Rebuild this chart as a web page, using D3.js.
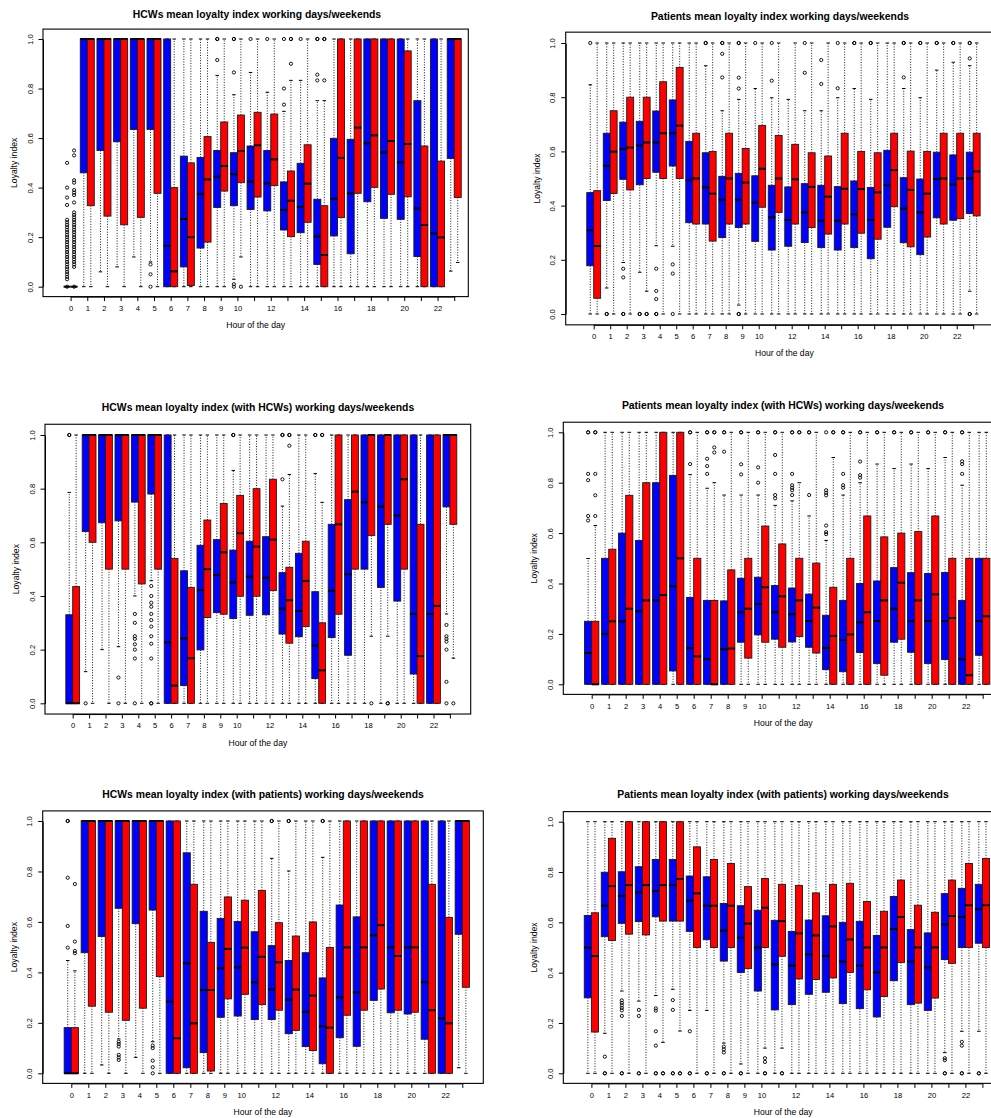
<!DOCTYPE html>
<html>
<head>
<meta charset="utf-8">
<script src="https://cdn.jsdelivr.net/npm/d3@7"></script>
<style>
  body { margin: 0; background: #fff; }
  svg { display: block; }
  text { font-family: "Liberation Sans", Arial, Helvetica, sans-serif; fill: #000; }
</style>
</head>
<body>
<svg id="chart" width="991" height="1118"></svg>
<script>
// Hours of the day (x categories) and their printed labels
const hours = [0,1,2,3,4,5,6,7,8,9,10,11,12,13,14,15,16,17,18,19,20,21,22,23];
const hourLabels = ["0","1","2","3","4","5","6","7","8","9","10","","12","","14","","16","","18","","20","","22",""];
const yTicks = [0, 0.2, 0.4, 0.6, 0.8, 1.0];

const titles = [
  "HCWs mean loyalty index working days/weekends",
  "Patients mean loyalty index working days/weekends",
  "HCWs mean loyalty index (with HCWs) working days/weekends",
  "Patients mean loyalty index (with HCWs) working days/weekends",
  "HCWs mean loyalty index (with patients) working days/weekends",
  "Patients mean loyalty index (with patients) working days/weekends"
];

// Box summaries per hour: [lower whisker, Q1, median, Q3, upper whisker]
// HCWs, all contacts
const hcwWork = [[0,0,0,0,0],[0,0.46,1,1,1],[0.06,0.55,1,1,1],[0.08,0.585,1,1,1],[0.12,0.635,1,1,1],[0.1,0.635,1,1,1],[0,0,0.165,1,1],[0,0.08,0.273,0.527,1],[0,0.156,0.374,0.522,1],[0,0.32,0.444,0.55,0.853],[0.03,0.327,0.454,0.541,0.775],[0,0.312,0.424,0.568,0.865],[0,0.306,0.417,0.55,0.785],[0,0.229,0.31,0.423,0.708],[0,0.218,0.322,0.498,0.833],[0,0.09,0.203,0.353,0.751],[0,0.205,0.355,0.599,1],[0,0.133,0.377,0.595,1],[0,0.343,0.579,1,1],[0,0.276,0.542,1,1],[0,0.272,0.502,1,1],[0,0.122,0.316,0.751,1],[0,0,0.215,1,1],[0.063,0.518,1,1,1]];
const hcwWorkOut = [[0.5,0.4,0.36,0.33,0.27,0.26,0.25,0.24,0.23,0.22,0.21,0.2,0.19,0.18,0.17,0.16,0.15,0.14,0.13,0.12,0.11,0.1,0.09,0.08,0.07,0.06,0.05,0.04,0.03,0],[],[],[],[],[0.09,0.05,0],[],[],[],[0.915,1,1],[0.865,1,1,0.01,0],[1],[1],[0.735,0.8,1],[1],[0.833,0.856,1,1],[],[],[],[],[],[],[],[]];
const hcwWeekend = [[0,0,0,0,0],[0,0.327,1,1,1],[0,0.285,1,1,1],[0,0.25,1,1,1],[0,0.28,1,1,1],[0,0.377,1,1,1],[0,0,0.062,0.4,1],[0,0.005,0.2,0.5,1],[0,0.18,0.433,0.606,1],[0,0.386,0.487,0.665,1],[0.12,0.42,0.548,0.693,1],[0,0.362,0.571,0.704,1],[0,0.408,0.514,0.697,1],[0,0.202,0.347,0.467,0.833],[0,0.26,0.416,0.573,1],[0,0,0.128,0.327,0.751],[0,0.279,0.52,1,1],[0,0.377,0.642,1,1],[0,0.401,0.611,1,1],[0,0.373,0.588,1,1],[0,0.363,0.576,0.952,1],[0,0,0.249,0.568,1],[0,0,0.199,0.507,1],[0.098,0.36,1,1,1]];
const hcwWeekendOut = [[0.55,0.53,0.43,0.42,0.39,0.38,0.37,0.34,0.3,0.29,0.28,0.27,0.26,0.25,0.24,0.23,0.22,0.21,0.2,0.19,0.18,0.17,0.16,0.15,0.14,0.13,0.12,0.11,0.1,0.09,0.08,0],[],[],[],[],[],[],[],[],[],[0],[],[],[0.9,1,1],[],[0.833,1,1],[],[],[],[],[],[],[],[]];

// Patients, all contacts
const patWork = [[0,0.178,0.309,0.448,0.846],[0.096,0.419,0.547,0.667,1],[0.19,0.497,0.609,0.708,1],[0.154,0.477,0.622,0.711,1],[0.252,0.523,0.633,0.749,1],[0.25,0.546,0.667,0.79,1],[0,0.337,0.494,0.637,1],[0,0.332,0.467,0.595,0.916],[0,0.282,0.422,0.508,0.75],[0.033,0.319,0.422,0.519,0.792],[0,0.268,0.411,0.51,0.832],[0,0.236,0.357,0.475,0.798],[0,0.25,0.347,0.469,0.792],[0,0.264,0.375,0.481,0.75],[0,0.245,0.344,0.475,0.75],[0,0.236,0.344,0.47,0.798],[0,0.245,0.368,0.491,0.832],[0,0.204,0.347,0.467,0.792],[0,0.32,0.475,0.604,1],[0,0.263,0.389,0.503,0.832],[0,0.219,0.375,0.498,0.798],[0,0.355,0.498,0.597,0.9],[0,0.346,0.478,0.587,0.929],[0.084,0.371,0.5,0.597,0.916]];
const patWorkOut = [[1],[0,0],[0.167,0.135,0,0],[0,0],[0.167,0.085,0.055,0,0],[0.183,0.149,0],[],[1,1],[0.96,0.873,1,1],[0.872,0.832,1,1,0,0],[1],[0.861,1],[],[0.89,1],[0.849,0.937],[0.833,1],[1,1],[1,1],[],[0.873,1,1],[1,1],[1,1],[1,1],[0.943,1,1,0,0]];
const patWeekend = [[0,0.058,0.251,0.455,1],[0,0.445,0.599,0.75,1],[0,0.458,0.614,0.8,1],[0.084,0.5,0.633,0.8,1],[0,0.5,0.667,0.857,1],[0,0.5,0.695,0.91,1],[0,0.332,0.5,0.667,1],[0,0.269,0.444,0.6,1],[0,0.332,0.5,0.667,1],[0,0.332,0.485,0.611,1],[0,0.394,0.536,0.696,1],[0,0.375,0.5,0.659,1],[0,0.332,0.497,0.626,1],[0,0.319,0.469,0.595,1],[0,0.295,0.433,0.583,1],[0,0.332,0.462,0.667,1],[0,0.298,0.461,0.6,1],[0,0.276,0.449,0.595,1],[0,0.396,0.531,0.667,1],[0,0.248,0.458,0.601,1],[0,0.284,0.444,0.6,1],[0,0.332,0.5,0.667,1],[0,0.352,0.5,0.667,1],[0,0.362,0.526,0.667,1]];
const patWeekendOut = [[],[],[],[0,0],[],[],[],[],[],[],[],[],[],[],[],[],[],[],[],[],[],[],[],[]];

// HCWs, contacts with HCWs
const hcwHcwWork = [[0,0,0,0.33,0.786],[0.118,0.64,1,1,1],[0.2,0.673,1,1,1],[0.211,0.68,1,1,1],[0.4,0.75,1,1,1],[0.457,0.78,1,1,1],[0,0,0.227,1,1],[0,0.066,0.242,0.494,1],[0,0.199,0.422,0.589,1],[0,0.338,0.478,0.61,1],[0,0.316,0.45,0.571,0.868],[0,0.328,0.472,0.604,1],[0,0.33,0.468,0.621,1],[0,0.258,0.353,0.487,0.735],[0,0.248,0.344,0.559,1],[0,0.092,0.215,0.416,0.856],[0,0.245,0.419,0.667,1],[0,0.179,0.481,0.759,1],[0,0.5,0.749,1,1],[0,0.432,0.733,1,1],[0,0.381,0.7,1,1],[0,0.109,0.333,1,1],[0,0,0.333,1,1],[0.333,0.732,1,1,1]];
const hcwHcwWorkOut = [[1,1],[0],[],[0.096,0],[0.333,0.3,0.25,0.24,0.22,0.2,0.167,0],[0.437,0.4,0.375,0.36,0.333,0.31,0.286,0.25,0.222,0.167,0,0],[],[],[],[],[1,1],[],[],[0.835,1,1],[],[1,1],[],[],[],[],[],[],[],[0.292,0.25,0.24,0.23,0.2,0.08,0]];
const hcwHcwWeekend = [[0,0,0,0.435,1],[0,0.6,1,1,1],[0,0.5,1,1,1],[0,0.5,1,1,1],[0,0.445,1,1,1],[0,0.5,1,1,1],[0,0,0.066,0.54,1],[0,0,0.168,0.432,1],[0,0.32,0.5,0.683,1],[0,0.332,0.563,0.745,1],[0,0.399,0.634,0.775,1],[0,0.399,0.584,0.8,1],[0,0.42,0.61,0.835,1],[0,0.224,0.384,0.507,0.853],[0,0.286,0.456,0.604,1],[0,0,0.123,0.3,0.749],[0,0.332,0.667,1,1],[0,0.5,0.789,1,1],[0.25,0.625,1,1,1],[0.25,0.667,1,1,1],[0,0.5,0.835,1,1],[0,0,0.176,0.667,1],[0,0,0.363,1,1],[0.168,0.667,1,1,1]];
const hcwHcwWeekendOut = [[],[],[],[],[],[],[],[],[],[],[],[],[],[0.96,1,1],[],[1,1],[],[],[0],[0,0],[],[],[],[0]];

// Patients, contacts with HCWs
const patHcwWork = [[0,0,0.124,0.25,0.499],[0,0,0.2,0.5,1],[0,0,0.25,0.6,1],[0,0,0.29,0.571,1],[0,0,0.333,0.8,1],[0,0.053,0.389,0.829,1],[0,0,0.143,0.345,0.832],[0,0,0.1,0.333,0.778],[0,0,0.139,0.331,0.751],[0,0.167,0.286,0.421,0.751],[0,0.196,0.319,0.425,0.751],[0,0.179,0.286,0.392,0.71],[0,0.168,0.278,0.382,0.728],[0,0.147,0.251,0.358,0.668],[0,0.058,0.144,0.274,0.571],[0,0.05,0.176,0.333,0.751],[0,0.126,0.246,0.4,0.8],[0,0.082,0.251,0.41,0.874],[0,0.167,0.3,0.463,0.856],[0,0.127,0.251,0.443,0.874],[0,0.082,0.251,0.44,0.856],[0,0.098,0.251,0.444,0.9],[0,0,0.099,0.333,0.79],[0,0.115,0.251,0.5,1]];
const patHcwWorkOut = [[0.65,0.668,0.81,0.835,1,1],[],[],[],[],[],[0.874,1,1],[0.835,0.866,0.895,1,1],[0.923,1,1],[0.833,0.873,1,1],[0.8,0.861,1,1],[0.738,0.751,0.835,0.91,1,1],[0.751,0.77,0.78,0.79,0.835,1,1],[0.751,1,1],[0.596,0.604,0.63,0.75,0.76,0.77,1],[0.78,0.79,0.835,1,1],[0.82,0.83,0.884,1,1],[1,1],[1,1],[1,1],[1,1],[1,1],[0.835,0.874,0.885,1,1],[]];
const patHcwWeekend = [[0,0,0,0.25,0.63],[0,0,0.25,0.536,1],[0,0,0.3,0.75,1],[0,0,0.333,0.8,1],[0,0,0.354,1,1],[0,0,0.5,1,1],[0,0,0.111,0.5,1],[0,0,0,0.333,0.8],[0,0,0.142,0.454,1],[0,0.104,0.3,0.5,1],[0,0.167,0.385,0.628,1],[0,0.147,0.349,0.557,1],[0,0.189,0.333,0.5,0.8],[0,0.124,0.304,0.481,1],[0,0,0.192,0.385,0.9],[0,0,0.198,0.5,1],[0,0,0.286,0.668,1],[0,0.036,0.333,0.585,1],[0,0.179,0.403,0.6,1],[0,0,0.333,0.606,1],[0,0,0.357,0.668,1],[0,0,0.263,0.5,1],[0,0,0.036,0.5,1],[0,0,0.27,0.5,1]];
const patHcwWeekendOut = [[0.668,0.75,0.835,1,1],[],[],[],[],[],[],[0.92,0.94,1,1],[],[],[],[],[1,1],[],[1,1],[],[],[],[],[],[],[],[],[]];

// HCWs, contacts with patients
const hcwPatWork = [[0,0,0,0.181,0.447],[0,0.478,1,1,1],[0.033,0.542,1,1,1],[0.136,0.654,1,1,1],[0.063,0.593,1,1,1],[0.125,0.647,1,1,1],[0,0,0.284,1,1],[0,0.022,0.436,0.874,1],[0,0.082,0.33,0.642,1],[0,0.222,0.416,0.614,1],[0,0.227,0.42,0.602,1],[0,0.213,0.361,0.561,1],[0,0.213,0.333,0.506,0.852],[0,0.157,0.292,0.447,0.802],[0,0.106,0.244,0.478,1],[0,0.038,0.186,0.378,0.856],[0,0.141,0.301,0.667,1],[0,0.107,0.321,0.62,1],[0,0.289,0.547,1,1],[0,0.24,0.499,1,1],[0,0.235,0.499,1,1],[0,0.135,0.361,1,1],[0,0,0.218,1,1],[0.022,0.551,1,1,1]];
const hcwPatWorkOut = [[0.498,0.584,0.775,1,1],[],[],[0.125,0.116,0.106,0.073,0.063,0.053],[],[0.11,0.1,0.05,0.024,0],[],[],[],[],[],[],[1,1],[1,1],[],[1,1],[],[],[],[],[],[],[],[]];
const hcwPatWeekend = [[0,0,0,0.181,0.406],[0,0.266,1,1,1],[0,0.242,1,1,1],[0,0.21,1,1,1],[0,0.258,1,1,1],[0,0.383,1,1,1],[0,0,0.139,1,1],[0,0,0.198,0.749,1],[0,0.009,0.33,0.519,1],[0,0.295,0.493,0.699,1],[0,0.313,0.498,0.686,1],[0,0.272,0.462,0.725,1],[0,0.25,0.44,0.597,1],[0,0.17,0.332,0.544,1],[0,0.09,0.308,0.6,1],[0,0,0.181,0.499,1],[0,0.23,0.499,1,1],[0,0.25,0.499,1,1],[0,0.334,0.587,1,1],[0,0.25,0.465,1,1],[0,0.242,0.499,1,1],[0,0,0.25,0.749,1],[0,0,0.198,0.618,1],[0,0.341,1,1,1]];
const hcwPatWeekendOut = [[0.476,0.485,0.522,0.75],[],[],[],[],[],[],[],[],[],[],[],[],[],[],[],[],[],[],[],[],[],[],[]];

// Patients, contacts with patients
const patPatWork = [[0,0.3,0.5,0.627,1],[0.159,0.543,0.666,0.799,1],[0.327,0.596,0.705,0.801,1],[0.287,0.603,0.719,0.821,1],[0.309,0.622,0.724,0.85,1],[0.334,0.605,0.748,0.85,1],[0.25,0.564,0.686,0.784,1],[0.25,0.531,0.666,0.781,1],[0.12,0.446,0.567,0.675,1],[0.037,0.401,0.539,0.666,1],[0,0.327,0.5,0.648,1],[0,0.252,0.433,0.608,1],[0,0.273,0.428,0.564,1],[0,0.314,0.473,0.609,1],[0,0.322,0.466,0.626,1],[0,0.277,0.444,0.6,1],[0,0.257,0.428,0.604,1],[0,0.224,0.401,0.548,1],[0,0.368,0.574,0.703,1],[0,0.273,0.444,0.571,1],[0,0.25,0.421,0.558,1],[0.082,0.452,0.592,0.714,1],[0.167,0.5,0.621,0.735,1],[0.167,0.517,0.652,0.751,1]];
const patPatWorkOut = [[],[0.066,0,0],[0.29,0.28,0.27,0.26,0.25,0.228,0,0],[0.252,0.228,0,0],[0.258,0.249,0.167,0.11,0,0],[0.291,0.252,0,0],[0.167,0,0],[0,0],[0.106,0.095,0.083,0,0],[0,0],[],[],[],[],[],[],[],[],[],[],[],[0.06,0.052,0,0],[0.125,0.11,0,0],[0,0]];
const patPatWeekend = [[0,0.164,0.466,0.638,1],[0,0.528,0.744,0.934,1],[0,0.553,0.748,1,1],[0,0.55,0.748,1,1],[0.123,0.605,0.748,1,1],[0.168,0.605,0.772,1,1],[0,0.5,0.715,0.9,1],[0,0.5,0.666,0.85,1],[0,0.5,0.666,0.834,1],[0,0.416,0.595,0.742,1],[0.1,0.5,0.658,0.774,1],[0.1,0.465,0.605,0.751,1],[0,0.375,0.556,0.747,1],[0,0.373,0.548,0.717,1],[0,0.379,0.584,0.751,1],[0,0.401,0.532,0.755,1],[0,0.332,0.5,0.683,1],[0,0.305,0.5,0.644,1],[0,0.44,0.621,0.768,1],[0,0.279,0.5,0.668,1],[0,0.299,0.5,0.64,1],[0,0.437,0.625,0.768,1],[0,0.5,0.668,0.834,1],[0,0.5,0.668,0.854,1]];
const patPatWeekendOut = [[],[],[],[],[0,0],[0,0],[],[],[],[],[0.06,0.045,0,0],[0,0],[],[],[],[],[],[],[],[],[],[],[],[]];

// Panel geometry (pixels)
const panels = [
  { title: titles[0], work: hcwWork, workOut: hcwWorkOut, weekend: hcwWeekend, weekendOut: hcwWeekendOut,
    left: 43, right: 468.3, y0: 286.7, y1: 39, hour0: 70.6, step: 16.68, titleX: 257, titleY: 17.8 },
  { title: titles[1], work: patWork, workOut: patWorkOut, weekend: patWeekend, weekendOut: patWeekendOut,
    left: 565.7, right: 1003, y0: 314, y1: 43, hour0: 593.7, step: 16.5, titleX: 780, titleY: 19.5 },
  { title: titles[2], work: hcwHcwWork, workOut: hcwHcwWorkOut, weekend: hcwHcwWeekend, weekendOut: hcwHcwWeekendOut,
    left: 45, right: 470.7, y0: 703.3, y1: 435, hour0: 72.7, step: 16.4, titleX: 258, titleY: 410.5 },
  { title: titles[3], work: patHcwWork, workOut: patHcwWorkOut, weekend: patHcwWeekend, weekendOut: patHcwWeekendOut,
    left: 563.3, right: 1003, y0: 684.3, y1: 432.3, hour0: 591.7, step: 17.0, titleX: 783, titleY: 408.8 },
  { title: titles[4], work: hcwPatWork, workOut: hcwPatWorkOut, weekend: hcwPatWeekend, weekendOut: hcwPatWeekendOut,
    left: 42.7, right: 483.3, y0: 1073.3, y1: 821, hour0: 71.3, step: 17.0, titleX: 263, titleY: 797.8 },
  { title: titles[5], work: patPatWork, workOut: patPatWorkOut, weekend: patPatWeekend, weekendOut: patPatWeekendOut,
    left: 563.3, right: 1003, y0: 1073.3, y1: 821.7, hour0: 591.4, step: 17.0, titleX: 783, titleY: 797.8 }
];

const WORK_COLOR = "#0000ff";
const WEEKEND_COLOR = "#ff0000";
const svg = d3.select("#chart");

function drawPanel(p) {
  const g = svg.append("g");
  const x = d3.scaleLinear()
    .domain([hours[0], hours[hours.length - 1]])
    .range([p.hour0, p.hour0 + (hours.length - 1) * p.step]);
  const y = d3.scaleLinear().domain([0, 1]).range([p.y0, p.y1]);
  const top = y(1.04), bottom = y(-0.04);
  const bw = 0.42 * p.step;

  const series = [
    { stats: p.work, out: p.workOut, color: WORK_COLOR, offset: -bw },
    { stats: p.weekend, out: p.weekendOut, color: WEEKEND_COLOR, offset: 0 }
  ];

  hours.forEach((h, i) => {
    series.forEach(s => {
      const [lo, q1, med, q3, hi] = s.stats[i];
      const x0 = x(h) + s.offset, cx = x0 + bw / 2;
      const bg = g.append("g");
      // whiskers
      bg.append("line").attr("x1", cx).attr("x2", cx).attr("y1", y(q3)).attr("y2", y(hi))
        .attr("stroke", "#000").attr("stroke-width", 0.9).attr("stroke-dasharray", "1,1.6");
      bg.append("line").attr("x1", cx).attr("x2", cx).attr("y1", y(q1)).attr("y2", y(lo))
        .attr("stroke", "#000").attr("stroke-width", 0.9).attr("stroke-dasharray", "1,1.6");
      // staples
      [lo, hi].forEach(v => {
        bg.append("line").attr("x1", cx - bw / 4).attr("x2", cx + bw / 4).attr("y1", y(v)).attr("y2", y(v))
          .attr("stroke", "#000").attr("stroke-width", 1);
      });
      // box
      bg.append("rect").attr("x", x0).attr("y", y(q3)).attr("width", bw)
        .attr("height", Math.max(0, y(q1) - y(q3)))
        .attr("fill", s.color).attr("stroke", "#1a1a1a").attr("stroke-width", 0.9);
      // median
      bg.append("line").attr("x1", x0).attr("x2", x0 + bw).attr("y1", y(med)).attr("y2", y(med))
        .attr("stroke", "#000").attr("stroke-width", 2);
      // outliers
      bg.selectAll("circle").data(s.out[i]).join("circle")
        .attr("cx", cx).attr("cy", d => y(d)).attr("r", 1.6)
        .attr("fill", "none").attr("stroke", "#000").attr("stroke-width", 0.9);
    });
  });

  // frame
  g.append("rect").attr("x", p.left).attr("y", top)
    .attr("width", p.right - p.left).attr("height", bottom - top)
    .attr("fill", "none").attr("stroke", "#000").attr("stroke-width", 1.1);

  // y axis
  const ya = g.append("g").attr("transform", `translate(${p.left},0)`)
    .call(d3.axisLeft(y).tickValues(yTicks).tickFormat(d3.format(".1f")).tickSize(4.5).tickSizeOuter(0));
  ya.attr("font-family", null).attr("font-size", null);
  ya.selectAll("line, path").attr("stroke", "#000");
  ya.selectAll("text")
    .attr("transform", "rotate(-90)").attr("x", 0).attr("y", -10.4).attr("dy", null)
    .attr("text-anchor", "middle").style("font-size", "7.6px");

  // x axis
  const xa = g.append("g").attr("transform", `translate(0,${bottom})`)
    .call(d3.axisBottom(x).tickValues(hours).tickFormat((d, i) => hourLabels[i]).tickSize(4.5).tickSizeOuter(0));
  xa.attr("font-family", null).attr("font-size", null);
  xa.selectAll("line, path").attr("stroke", "#000");
  xa.selectAll("text").attr("y", 14.4).attr("dy", null).style("font-size", "7.6px");

  // axis titles
  const cxFrame = (p.left + p.right) / 2;
  g.append("text").attr("x", cxFrame).attr("y", bottom + 31.5)
    .attr("text-anchor", "middle").style("font-size", "8.6px").text("Hour of the day");
  g.append("text")
    .attr("transform", `translate(${p.left - 26},${(top + bottom) / 2}) rotate(-90)`)
    .attr("text-anchor", "middle").style("font-size", "8.6px").text("Loyalty index");

  // main title
  g.append("text").attr("x", p.titleX).attr("y", p.titleY)
    .attr("text-anchor", "middle").style("font-size", "10.4px").style("font-weight", "bold")
    .text(p.title);
}

panels.forEach(drawPanel);
</script>
</body>
</html>
